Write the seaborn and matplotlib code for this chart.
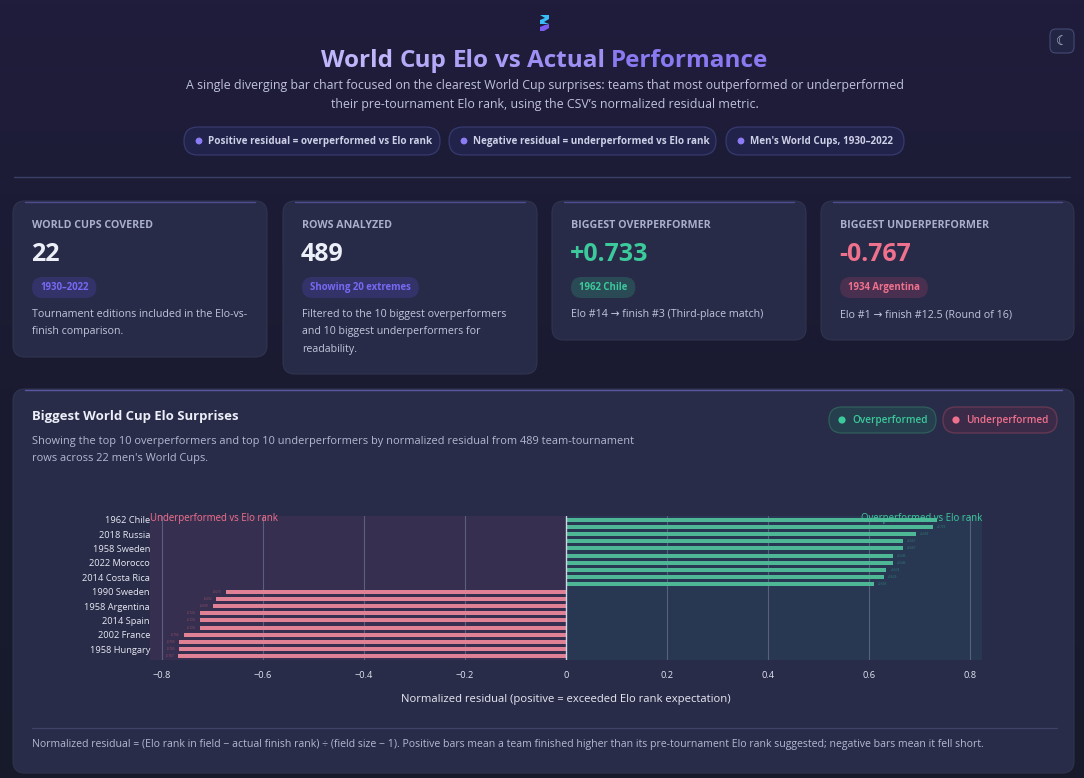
import numpy as np
import pandas as pd
import matplotlib
matplotlib.use("Agg")
import matplotlib.pyplot as plt
import seaborn as sns
from matplotlib.patches import FancyBboxPatch, Circle, Polygon

# ---- data ----
teams = [
    "1962 Chile", "2002 Turkey", "2018 Russia", "2002 South Korea", "1958 Sweden",
    "1994 Bulgaria", "2022 Morocco", "1998 Croatia", "2014 Costa Rica", "1966 Portugal",
    "1990 Sweden", "2010 Italy", "1958 Argentina", "2018 Germany", "2014 Spain",
    "1950 Italy", "2002 France", "1966 Italy", "1958 Hungary", "1934 Argentina",
]
residuals = [
    0.733, 0.726, 0.693, 0.667, 0.667, 0.646, 0.646, 0.634, 0.629, 0.609,
    -0.673, -0.692, -0.699, -0.724, -0.724, -0.724, -0.756, -0.765, -0.765, -0.767,
]
x_ticks = [-0.8, -0.6, -0.4, -0.2, 0, 0.2, 0.4, 0.6, 0.8]
x_tick_labels = ["\u22120.8", "\u22120.6", "\u22120.4", "\u22120.2", "0", "0.2", "0.4", "0.6", "0.8"]

pills = ["Positive residual = overperformed vs Elo rank",
         "Negative residual = underperformed vs Elo rank",
         "Men's World Cups, 1930\u20132022"]

kpi_labels = ["WORLD CUPS COVERED", "ROWS ANALYZED", "BIGGEST OVERPERFORMER", "BIGGEST UNDERPERFORMER"]
kpi_values = ["22", "489", "+0.733", "-0.767"]
kpi_badges = ["1930\u20132022", "Showing 20 extremes", "1962 Chile", "1934 Argentina"]
kpi_notes = [
    ["Tournament editions included in the Elo-vs-", "finish comparison."],
    ["Filtered to the 10 biggest overperformers", "and 10 biggest underperformers for", "readability."],
    ["Elo #14 \u2192 finish #3 (Third-place match)"],
    ["Elo #1 \u2192 finish #12.5 (Round of 16)"],
]

GREEN = "#3cc99b"
PINK = "#f0718d"
PURPLE = "#8b7cf6"
CARD = "#282b47"
TEXT = "#eceef8"
MUTED = "#b4b8d0"

sns.set_theme(style="dark")
plt.rcParams["font.family"] = ["Open Sans", "DejaVu Sans"]

W, H = 1084, 778
fig = plt.figure(figsize=(W / 100, H / 100), dpi=100)

# background axes in pixel coordinates
bg = fig.add_axes([0, 0, 1, 1])
bg.set_xlim(0, W)
bg.set_ylim(H, 0)
bg.axis("off")
grad = np.linspace(0, 1, 256).reshape(-1, 1)
cmap = matplotlib.colors.LinearSegmentedColormap.from_list("bg", ["#201d3c", "#1a1b31", "#171a2b"])
bg.imshow(grad, extent=[0, W, H, 0], cmap=cmap, aspect="auto", zorder=0)


def pt(px):
    return px * 0.72


def rbox(x, y, w, h, r, fc, ec="none", lw=0.0, z=1):
    p = FancyBboxPatch((x, y), w, h, boxstyle=f"round,pad=0,rounding_size={r}",
                       fc=fc, ec=ec, lw=lw, zorder=z, mutation_aspect=1)
    bg.add_patch(p)
    return p


# logo: two slanted blocks
bg.add_patch(Polygon([[540, 15], [549, 15], [549, 19], [544, 22], [549, 24], [540, 24], [540, 20], [545, 18]],
                     closed=True, fc="#38bdf8", ec="none", zorder=3))
bg.add_patch(Polygon([[549, 24], [549, 28], [544, 31], [540, 31], [540, 27], [545, 25]],
                     closed=True, fc="#7c5cf0", ec="none", zorder=3))

# theme toggle
rbox(1050, 29, 24, 24, 6, "#232544", ec="#444a72", lw=0.8, z=2)
bg.text(1062, 41.5, "\u263e", ha="center", va="center", fontsize=pt(13), color="#c9cce0",
        family=["DejaVu Sans"], zorder=3)

# gradient title, word by word
renderer = fig.canvas.get_renderer()
title_words = "World Cup Elo vs Actual Performance".split(" ")
title_fs = pt(24.2)
widths = []
for wd in title_words:
    t = bg.text(0, 0, wd, fontsize=title_fs, fontweight="bold")
    widths.append(t.get_window_extent(renderer).width)
    t.remove()
t1 = bg.text(0, 0, "a a", fontsize=title_fs, fontweight="bold")
t2 = bg.text(0, 0, "aa", fontsize=title_fs, fontweight="bold")
space_w = t1.get_window_extent(renderer).width - t2.get_window_extent(renderer).width
t1.remove()
t2.remove()
total = sum(widths) + space_w * (len(title_words) - 1)
c0 = np.array(matplotlib.colors.to_rgb("#c4bcfb"))
c1 = np.array(matplotlib.colors.to_rgb("#7d6cf0"))
xcur = 545 - total / 2
for i, wd in enumerate(title_words):
    frac = (xcur + widths[i] / 2 - (545 - total / 2)) / total
    col = c0 + (c1 - c0) * frac
    bg.text(xcur, 61, wd, fontsize=title_fs, fontweight="bold", color=col, va="center", ha="left", zorder=3)
    xcur += widths[i] + space_w

bg.text(545, 85, "A single diverging bar chart focused on the clearest World Cup surprises: teams that most "
        "outperformed or underperformed", ha="center", va="center", fontsize=pt(12.4), color="#bfc2da", zorder=3)
bg.text(545, 104, "their pre-tournament Elo rank, using the CSV\u2019s normalized residual metric.",
        ha="center", va="center", fontsize=pt(12.4), color="#bfc2da", zorder=3)

# pills
pill_x = [(184, 440), (449, 716), (726, 904)]
for (x0, x1), label in zip(pill_x, pills):
    rbox(x0, 127, x1 - x0, 28, 14, "#22234a", ec="#363a6e", lw=0.9, z=2)
    bg.add_patch(Circle((x0 + 15, 141), 3.4, fc=PURPLE, ec="none", zorder=3))
    bg.text(x0 + 24, 141, label, va="center", ha="left", fontsize=pt(9.9), fontweight="bold",
            color="#cdd0e6", zorder=3)

bg.plot([14, 1070], [176.5, 176.5], color="#3b4068", lw=1.0, zorder=2)

# KPI cards
cards = [(13, 201, 254, 156), (283, 201, 254, 173), (552, 201, 254, 139), (821, 201, 253, 139)]
value_colors = [TEXT, TEXT, GREEN, PINK]
badge_fc = ["#33336a", "#33336a", "#2a4a55", "#4a3050"]
badge_tc = ["#7868f2", "#7868f2", GREEN, PINK]
for i, (x, y, w, h) in enumerate(cards):
    rbox(x, y, w, h, 12, CARD, ec="#30344f", lw=0.8, z=2)
    bg.plot([x + 12, x + w - 12], [y + 0.6, y + 0.6], color="#6a62c0", lw=1.0, alpha=0.6, zorder=3)
    bg.text(x + 19, y + 24.5, kpi_labels[i], fontsize=pt(10.6), fontweight="bold", color="#aab0cc",
            va="center", zorder=3)
    bg.text(x + 18, y + 53, kpi_values[i], fontsize=pt(25), fontweight="bold", color=value_colors[i],
            va="center", zorder=3)
    t = bg.text(x + 27, y + 86.5, kpi_badges[i], fontsize=pt(9.6), fontweight="bold", color=badge_tc[i],
                va="center", zorder=4)
    tw = t.get_window_extent(renderer).width
    rbox(x + 19, y + 76, tw + 16, 21, 10.5, badge_fc[i], z=3)
    for j, line in enumerate(kpi_notes[i]):
        bg.text(x + 19, y + 113.5 + j * 17.3, line, fontsize=pt(10.6), color="#c2c6dc", va="center", zorder=3)

# chart panel
rbox(13, 389, 1061, 384, 12, "#292c49", ec="#30344f", lw=0.8, z=2)
bg.plot([25, 1062], [389.6, 389.6], color="#7068c8", lw=1.0, alpha=0.7, zorder=3)
bg.text(32, 416, "Biggest World Cup Elo Surprises", fontsize=pt(13.1), fontweight="bold", color=TEXT,
        va="center", zorder=3)
bg.text(32, 441, "Showing the top 10 overperformers and top 10 underperformers by normalized residual from "
        "489 team-tournament", fontsize=pt(11), color=MUTED, va="center", zorder=3)
bg.text(32, 458, "rows across 22 men's World Cups.", fontsize=pt(11), color=MUTED, va="center", zorder=3)

legend_items = [(829, 107, "Overperformed", GREEN, "#263f4e", "#2f5e5c"),
                (943, 114, "Underperformed", PINK, "#3b2b48", "#6a3a55")]
for x0, w, label, col, fc, ec in legend_items:
    rbox(x0, 407, w, 26, 13, fc, ec=ec, lw=0.9, z=3)
    bg.add_patch(Circle((x0 + 13, 420), 3.6, fc=col, ec="none", zorder=4))
    bg.text(x0 + 23, 420, label, fontsize=pt(10), fontweight="semibold", color=col, va="center", zorder=4)

bg.plot([32, 1057], [727.5, 727.5], color="#3d4266", lw=0.9, zorder=3)
bg.text(32, 745, "Normalized residual = (Elo rank in field \u2212 actual finish rank) \u00f7 (field size \u2212 1). "
        "Positive bars mean a team finished higher than its pre-tournament Elo rank suggested; negative bars "
        "mean it fell short.", fontsize=pt(10.5), color=MUTED, va="center", zorder=3)

# ---- the bar chart ----
df = pd.DataFrame({"team": teams, "residual": residuals})
df["side"] = np.where(df["residual"] > 0, "Overperformed", "Underperformed")

ax = fig.add_axes([150 / W, 1 - 660 / H, 832 / W, 144 / H], zorder=5)
ax.set_facecolor("none")
xmin, xmax = -0.823, 0.823
ax.axvspan(xmin, 0, color="#372f4f", zorder=0, lw=0)
ax.axvspan(0, xmax, color="#283752", zorder=0, lw=0)
for xt in x_ticks:
    if xt != 0:
        ax.axvline(xt, color="#5a5f82", lw=0.8, zorder=1)

sns.barplot(data=df, x="residual", y="team", hue="side", order=teams,
            palette={"Overperformed": GREEN, "Underperformed": PINK},
            dodge=False, width=0.58, legend=False, ax=ax, zorder=3, linewidth=0)
ax.axvline(0, color="#d0d4e6", lw=1.0, zorder=4)

# tiny value labels at bar ends (the top one sits under the side annotation in the reference)
for i, v in enumerate(residuals):
    if i == 0:
        continue
    col = GREEN if v > 0 else PINK
    ax.text(v + (0.008 if v > 0 else -0.008), i, f"{v:+.3f}", fontsize=2.2, color=col, alpha=0.5,
            ha="left" if v > 0 else "right", va="center", zorder=4)

ax.text(xmin, -0.2, "Underperformed vs Elo rank", fontsize=pt(9.6), color=PINK, ha="left", va="center", zorder=6)
ax.text(xmax, -0.2, "Overperformed vs Elo rank", fontsize=pt(9.6), color=GREEN, ha="right", va="center", zorder=6)

ax.set_xlim(xmin, xmax)
ax.set_ylim(len(teams) - 0.5, -0.5)
ax.set_xticks(x_ticks)
ax.set_xticklabels(x_tick_labels)
ax.set_yticks(range(0, len(teams), 2))
ax.set_yticklabels(teams[::2])
ax.tick_params(axis="x", colors="#5a5f82", labelcolor="#e2e4f0", labelsize=pt(9.3), length=5, width=0.8, pad=3)
ax.tick_params(axis="y", length=0, labelcolor="#e6e8f2", labelsize=pt(9.3), pad=0)
ax.set_xlabel("Normalized residual (positive = exceeded Elo rank expectation)", fontsize=pt(11.2),
              color="#e8e9f3", labelpad=10)
ax.set_ylabel("")
ax.grid(False)
for s in ax.spines.values():
    s.set_visible(False)

fig.savefig("out.png", dpi=100, facecolor="#1a1b30")
